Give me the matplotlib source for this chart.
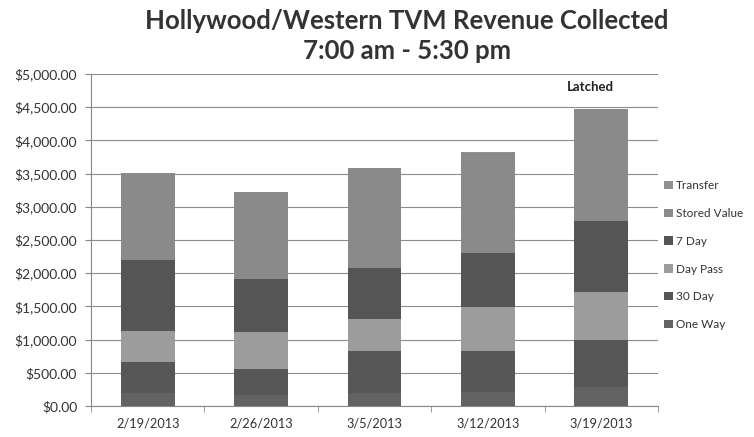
import numpy as np
import matplotlib
matplotlib.use("Agg")
import matplotlib.pyplot as plt
from matplotlib.ticker import FuncFormatter, MultipleLocator

# ── Data ──────────────────────────────────────────────────────
dates = ["2/19/2013", "2/26/2013", "3/5/2013", "3/12/2013", "3/19/2013"]

one_way = [195, 165, 195, 210, 290]
thirty_day = [475, 390, 640, 625, 705]
day_pass = [465, 555, 475, 655, 725]
seven_day = [1065, 800, 775, 810, 1070]
stored_value = [1310, 1305, 1500, 1515, 1675]
transfer = [5, 5, 5, 5, 5]

series = [
    ("One Way", one_way, "#626262"),
    ("30 Day", thirty_day, "#575757"),
    ("Day Pass", day_pass, "#9c9c9c"),
    ("7 Day", seven_day, "#555555"),
    ("Stored Value", stored_value, "#8a8a8a"),
    ("Transfer", transfer, "#929292"),
]

FONT = ["Lato", "DejaVu Sans"]
TXT = "#333333"

fig = plt.figure(figsize=(7.54, 4.37), dpi=100, facecolor="white")
ax = fig.add_axes([0.1207, 0.0709, 0.752, 0.760])

x = np.arange(len(dates))
bottom = np.zeros(len(dates))
handles = []
for name, vals, col in series:
    b = ax.bar(x, vals, width=0.475, bottom=bottom, color=col,
               edgecolor="none", label=name, zorder=3)
    handles.append(b)
    bottom += np.array(vals)

ax.set_xlim(-0.5, len(dates) - 0.5)
ax.set_ylim(0, 5000)
ax.yaxis.set_major_locator(MultipleLocator(500))
ax.yaxis.set_major_formatter(FuncFormatter(lambda v, _: f"${v:,.2f}"))
ax.grid(axis="y", color="#8c8c8c", linewidth=0.8, zorder=0)

ax.set_xticks(x)
ax.set_xticklabels(dates)
ax.set_xticks(np.arange(len(dates) + 1) - 0.5, minor=True)
ax.tick_params(axis="x", which="major", length=0, pad=8,
               labelsize=9.2, labelcolor=TXT)
ax.tick_params(axis="x", which="minor", length=4, color="#888888",
               direction="out")
ax.tick_params(axis="y", length=4, color="#888888", labelsize=10,
               labelcolor=TXT, pad=6)
for lbl in ax.get_xticklabels() + ax.get_yticklabels():
    lbl.set_family(FONT)

for side in ["top", "right"]:
    ax.spines[side].set_visible(False)
for side in ["left", "bottom"]:
    ax.spines[side].set_color("#888888")
    ax.spines[side].set_linewidth(0.8)

# Legend, reversed so Transfer sits on top
leg = fig.legend(handles[::-1], [s[0] for s in series][::-1],
                 loc="upper left", bbox_to_anchor=(0.878, 0.593),
                 frameon=False, handlelength=0.7, handleheight=0.7,
                 handletextpad=0.3, labelspacing=1.42,
                 borderaxespad=0, borderpad=0.2,
                 prop={"family": FONT, "size": 8.5})
for t in leg.get_texts():
    t.set_color(TXT)

fig.text(0.54, 0.98, "Hollywood/Western TVM Revenue Collected\n7:00 am - 5:30 pm",
         ha="center", va="top", fontsize=18.5, fontweight="bold",
         family=FONT, color="#333333", linespacing=1.3)

ax.text(3.9, 4800, "Latched", ha="center", va="center", fontsize=9.5,
        fontweight="bold", family=FONT, color="#222222")

fig.savefig("out.png", dpi=100, facecolor="white")
